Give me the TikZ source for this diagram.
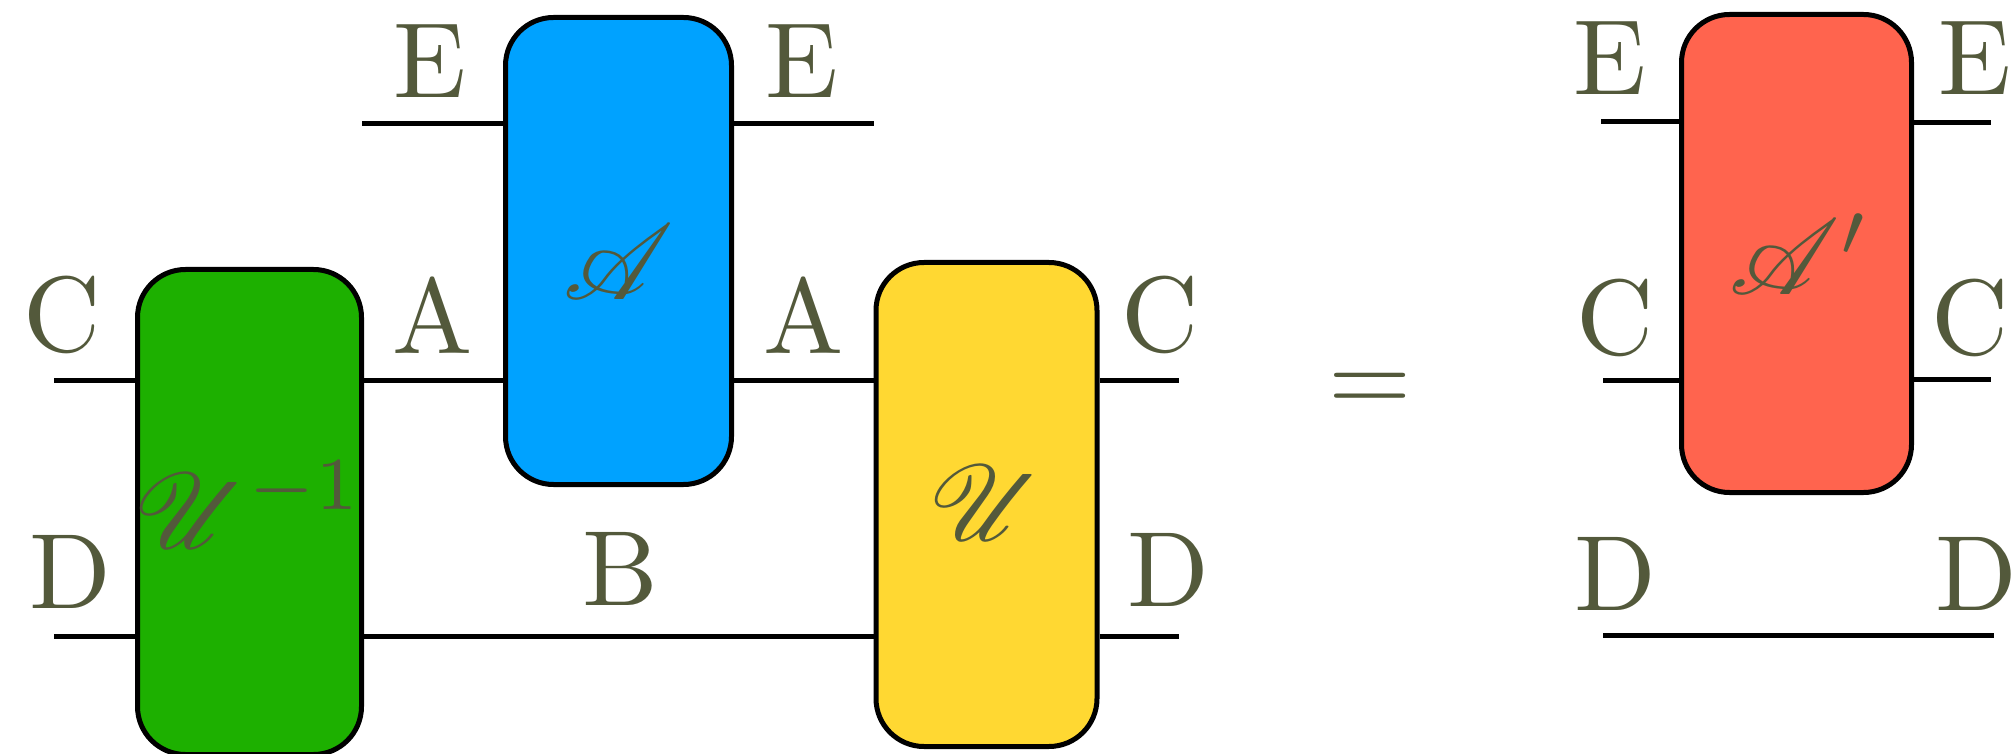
\documentclass[tikz,border=0pt]{standalone}
\usepackage{mathrsfs}
\usepackage{graphicx}
\newcommand{\Bx}[1]{\scalebox{5.35}{#1}}
\definecolor{txt}{RGB}{83,89,59}
\definecolor{cgreen}{RGB}{29,176,0}
\definecolor{cblue}{RGB}{0,162,255}
\definecolor{cyellow}{RGB}{255,216,50}
\definecolor{cred}{RGB}{255,100,78}
\begin{document}
\begin{tikzpicture}[x=0.5pt,y=-0.5pt,
  every node/.style={font=\fontsize{10}{12}\selectfont, text=txt, inner sep=0pt},
  tensor/.style={draw=black, line width=2.5pt, rounded corners=24pt},
  wire/.style={line width=2.5pt, draw=black},
  lbl/.style={anchor=base}]
\useasboundingbox (0,0) rectangle (2013,754);
% boxes
\node[tensor, fill=cgreen,  minimum width=112pt,   minimum height=242.5pt] (Ui) at (249.5,512) {};
\node[tensor, fill=cblue,   minimum width=113pt,   minimum height=233.5pt] (A)  at (618.5,251) {};
\node[tensor, fill=cyellow, minimum width=110.5pt, minimum height=242pt]   (U)  at (986.5,504.5) {};
\node[tensor, fill=cred,    minimum width=115pt,   minimum height=239pt]   (R)  at (1796.5,253.5) {};
% free wire ends
\coordinate (eL) at (362,124);
\coordinate (eR) at (874,124);
\coordinate (cL) at (54,380.5);
\coordinate (cR) at (1179,380);
\coordinate (dL) at (54,636.5);
\coordinate (dR) at (1179,636.5);
\coordinate (eL2) at (1601,122);
\coordinate (eR2) at (1991,123);
\coordinate (cL2) at (1603,380.5);
\coordinate (cR2) at (1991,379.5);
\coordinate (dL2) at (1603,635);
\coordinate (dR2) at (1994,635);
% wires
\draw[wire] (eL) -- (eL -| A.west);
\draw[wire] (A.east |- eR) -- (eR);
\draw[wire] (cL) -- (cL -| Ui.west);
\draw[wire] (Ui.east |- cL) -- (A.west |- cL);
\draw[wire] (A.east |- cL) -- (U.west |- cL);
\draw[wire] (U.east |- cR) -- (cR);
\draw[wire] (dL) -- (dL -| Ui.west);
\draw[wire] (Ui.east |- dL) -- (U.west |- dL);
\draw[wire] (U.east |- dR) -- (dR);
\draw[wire] (eL2) -- (eL2 -| R.west);
\draw[wire] (R.east |- eR2) -- (eR2);
\draw[wire] (cL2) -- (cL2 -| R.west);
\draw[wire] (R.east |- cR2) -- (cR2);
\draw[wire] (dL2) -- (dR2);
% tensor names
\node (tUi) at (249,505) {\Bx{$\mathscr{U}^{-1}$}};
\node (tA)  at (619,262) {\Bx{$\mathscr{A}$}};
\node (tU)  at (986,503) {\Bx{$\mathscr{U}$}};
\node (tR)  at (1800,254) {\Bx{$\mathscr{A}'$}};
% index labels
\node[lbl] (lE1) at (430,98) {\Bx{E}};
\node[lbl] (lE2) at (802,98) {\Bx{E}};
\node[lbl] (lC1) at (62,351) {\Bx{C}};
\node[lbl] (lA1) at (433,353) {\Bx{A}};
\node[lbl] (lA2) at (804,353) {\Bx{A}};
\node[lbl] (lC2) at (1160,351) {\Bx{C}};
\node[lbl] (lD1) at (70,608) {\Bx{D}};
\node[lbl] (lB)  at (620,605) {\Bx{B}};
\node[lbl] (lD2) at (1168,606) {\Bx{D}};
\node[lbl] (eq)  at (1370,412) {\Bx{$=$}};
\node[lbl] (lE3) at (1610,95) {\Bx{E}};
\node[lbl] (lE4) at (1975,95) {\Bx{E}};
\node[lbl] (lC3) at (1615,354) {\Bx{C}};
\node[lbl] (lC4) at (1970,354) {\Bx{C}};
\node[lbl] (lD3) at (1615,610) {\Bx{D}};
\node[lbl] (lD4) at (1976,610) {\Bx{D}};
\end{tikzpicture}
\end{document}
